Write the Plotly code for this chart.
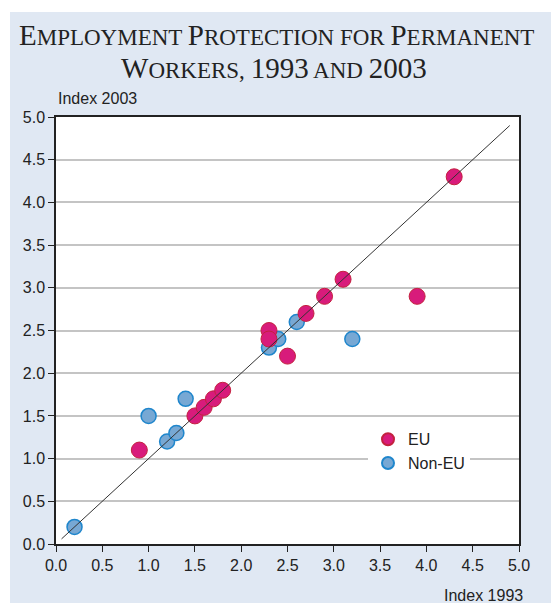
import plotly.graph_objects as go

# EU countries: (index 1993, index 2003)
eu_1993 = [0.9, 1.5, 1.6, 1.7, 1.8, 2.3, 2.3, 2.5, 2.7, 2.9, 3.1, 3.9, 4.3]
eu_2003 = [1.1, 1.5, 1.6, 1.7, 1.8, 2.5, 2.4, 2.2, 2.7, 2.9, 3.1, 2.9, 4.3]

# Non-EU countries
non_eu_1993 = [0.2, 1.0, 1.2, 1.3, 1.4, 2.3, 2.4, 2.6, 3.2]
non_eu_2003 = [0.2, 1.5, 1.2, 1.3, 1.7, 2.3, 2.4, 2.6, 2.4]

# 45-degree reference line
diag = [0.06, 4.9]

tick_vals = [0.0, 0.5, 1.0, 1.5, 2.0, 2.5, 3.0, 3.5, 4.0, 4.5, 5.0]
tick_text = ["0.0", "0.5", "1.0", "1.5", "2.0", "2.5", "3.0", "3.5", "4.0", "4.5", "5.0"]

BG = "#e0e8f3"
MAGENTA = "#d81b7b"
MAGENTA_EDGE = "#c4213f"
BLUE = "#77a8d4"
BLUE_EDGE = "#1f86cc"
SANS = "Liberation Sans, Arial, sans-serif"
SERIF = "Liberation Serif, Times New Roman, serif"

fig = go.Figure()

fig.add_trace(go.Scatter(
    x=non_eu_1993, y=non_eu_2003, mode="markers", name="Non-EU",
    marker=dict(size=15, color=BLUE, line=dict(color=BLUE_EDGE, width=1.5)),
    legendrank=2,
))
fig.add_trace(go.Scatter(
    x=eu_1993, y=eu_2003, mode="markers", name="EU",
    marker=dict(size=16, color=MAGENTA, line=dict(color=MAGENTA_EDGE, width=1)),
    legendrank=1,
))
fig.add_trace(go.Scatter(
    x=diag, y=diag, mode="lines", showlegend=False,
    line=dict(color="#333333", width=1), hoverinfo="skip",
))

BIG = "<span style='font-size:29px'>{}</span>"
title1 = (BIG.format("E") + "MPLOYMENT " + BIG.format("P") + "ROTECTION FOR "
          + BIG.format("P") + "ERMANENT")
title2 = (BIG.format("W") + "ORKERS, " + BIG.format("1993") + " AND " + BIG.format("2003"))

axis_common = dict(
    range=[0, 5], tickvals=tick_vals, ticktext=tick_text,
    ticks="outside", ticklen=6, tickcolor="#222222", tickwidth=1,
    showline=True, linecolor="#222222", linewidth=1.5, mirror=True,
    zeroline=False,
    tickfont=dict(family=SANS, size=16, color="#222222"),
)

fig.update_layout(
    width=551, height=603,
    margin=dict(l=56, r=32, t=117, b=59),
    paper_bgcolor=BG, plot_bgcolor="white",
    showlegend=True,
    xaxis=dict(**axis_common, showgrid=False),
    yaxis=dict(**axis_common, showgrid=True, gridcolor="#c4c4c4", gridwidth=1.5),
    legend=dict(
        x=(368 - 56) / 463, y=0.285, xanchor="left", yanchor="top",
        bgcolor="white", borderwidth=0,
        font=dict(family=SANS, size=16, color="#222222"),
        itemsizing="constant", traceorder="normal",
        itemwidth=30,
    ),
    shapes=[
        # white margins outside the shaded panel (top strip and left strip)
        dict(type="rect", xref="paper", yref="paper", x0=-0.2, x1=1.2,
             y0=(544 - 12) / 427, y1=1.4, fillcolor="white", line=dict(width=0), layer="below"),
        dict(type="rect", xref="paper", yref="paper", x0=-0.2, x1=(10 - 56) / 463,
             y0=-0.3, y1=1.4, fillcolor="white", line=dict(width=0), layer="below"),
    ],
    annotations=[
        dict(text=title1, xref="paper", yref="paper", x=(276 - 56) / 463, y=(544 - 35) / 427,
             xanchor="center", yanchor="middle", showarrow=False,
             font=dict(family=SERIF, size=23, color="#222222")),
        dict(text=title2, xref="paper", yref="paper", x=(274 - 56) / 463, y=(544 - 68) / 427,
             xanchor="center", yanchor="middle", showarrow=False,
             font=dict(family=SERIF, size=23, color="#222222")),
        dict(text="Index 2003", xref="paper", yref="paper", x=(56 - 56) / 463, y=(544 - 99) / 427,
             xanchor="left", yanchor="middle", showarrow=False,
             font=dict(family=SANS, size=16, color="#222222")),
        dict(text="Index 1993", xref="paper", yref="paper", x=(525 - 56) / 463, y=(544 - 595) / 427,
             xanchor="right", yanchor="middle", showarrow=False,
             font=dict(family=SANS, size=16, color="#222222")),
    ],
)

fig.write_html(
    "out.html",
    config={"displayModeBar": False},
    post_script="document.body.style.margin='0px';document.body.style.overflow='hidden';",
)
